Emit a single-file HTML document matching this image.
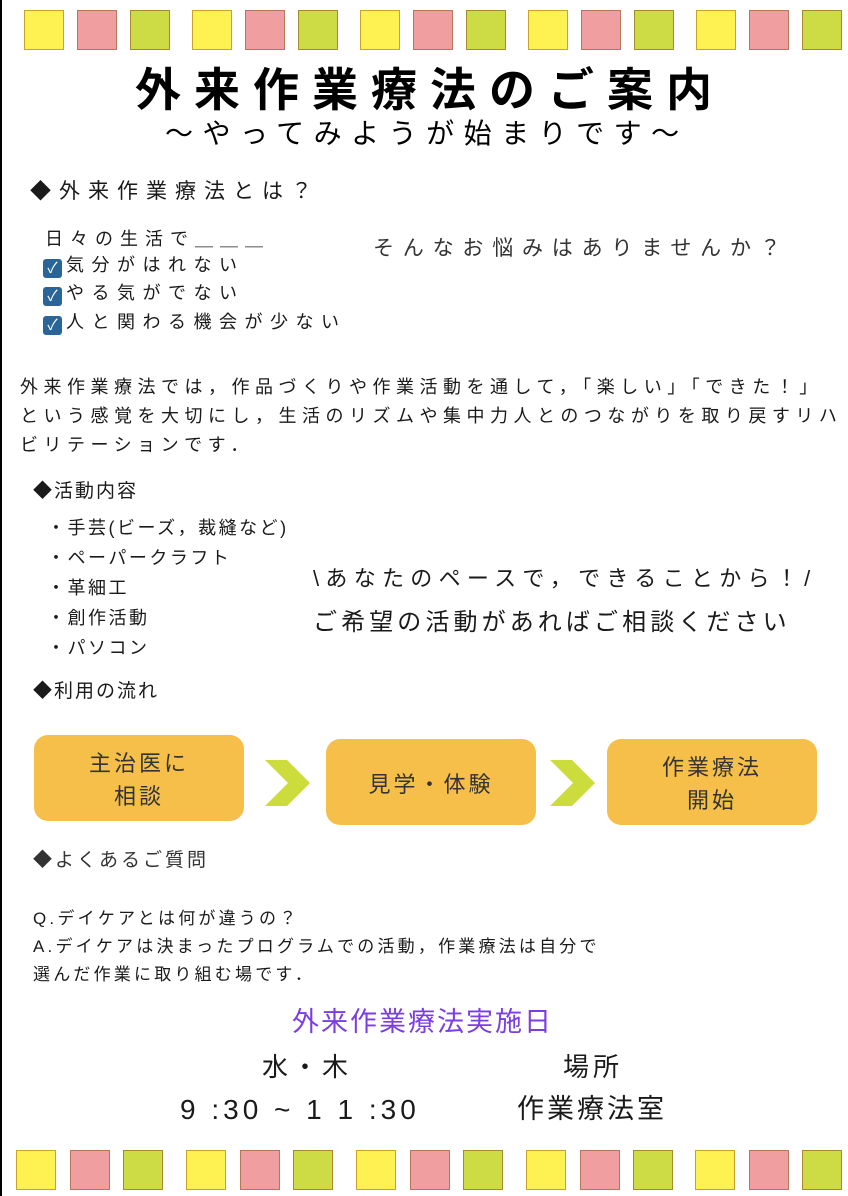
<!DOCTYPE html>
<html><head><meta charset="utf-8"><style>
*{margin:0;padding:0;box-sizing:border-box}
body{width:848px;height:1196px;background:#fff;position:relative;overflow:hidden;font-family:"Liberation Sans","Noto Sans CJK JP",sans-serif;color:#1a1a1a}
.t{position:absolute;white-space:nowrap;line-height:1}
.sq{position:absolute;width:40px;height:40px;border:1.5px solid #b88a2a}
.y{background:#fdf252;border-color:#c9a227}.p{background:#f09ea0;border-color:#b9765a}.g{background:#cddc44;border-color:#a88a2a}
.box{position:absolute;background:#f6bf49;border-radius:14px;color:#333;font-size:22px;letter-spacing:3px;text-align:center;display:flex;align-items:center;justify-content:center;line-height:1.5;padding-top:4px}
.cb{display:inline-block;width:19px;height:19px;background:#2a6599;border-radius:3px;color:#fff;font-size:15px;line-height:19px;text-align:center;vertical-align:-2px;margin-right:4px;letter-spacing:0}
</style></head><body>
<div style="position:absolute;left:0;top:0;width:1.5px;height:1196px;background:#000"></div>
<div class="sq y" style="left:24px;top:10px"></div><div class="sq p" style="left:77px;top:10px"></div><div class="sq g" style="left:130px;top:10px"></div>
<div class="sq y" style="left:192px;top:10px"></div><div class="sq p" style="left:245px;top:10px"></div><div class="sq g" style="left:298px;top:10px"></div>
<div class="sq y" style="left:360px;top:10px"></div><div class="sq p" style="left:413px;top:10px"></div><div class="sq g" style="left:466px;top:10px"></div>
<div class="sq y" style="left:528px;top:10px"></div><div class="sq p" style="left:581px;top:10px"></div><div class="sq g" style="left:634px;top:10px"></div>
<div class="sq y" style="left:696px;top:10px"></div><div class="sq p" style="left:749px;top:10px"></div><div class="sq g" style="left:802px;top:10px"></div>
<div class="sq y" style="left:16px;top:1150px"></div><div class="sq p" style="left:70px;top:1150px"></div><div class="sq g" style="left:123px;top:1150px"></div>
<div class="sq y" style="left:186px;top:1150px"></div><div class="sq p" style="left:240px;top:1150px"></div><div class="sq g" style="left:293px;top:1150px"></div>
<div class="sq y" style="left:356px;top:1150px"></div><div class="sq p" style="left:410px;top:1150px"></div><div class="sq g" style="left:463px;top:1150px"></div>
<div class="sq y" style="left:526px;top:1150px"></div><div class="sq p" style="left:580px;top:1150px"></div><div class="sq g" style="left:633px;top:1150px"></div>
<div class="sq y" style="left:695px;top:1150px"></div><div class="sq p" style="left:749px;top:1150px"></div><div class="sq g" style="left:802px;top:1150px"></div>

<div class="t" style="left:135px;top:67px;font-size:46px;letter-spacing:13px;font-weight:bold;color:#000">外来作業療法のご案内</div>
<div class="t" style="left:165px;top:120px;font-size:28px;letter-spacing:9.5px;color:#000">～やってみようが始まりです～</div>

<div class="t" style="left:30px;top:181px;font-size:21px;letter-spacing:8px"><span style="letter-spacing:0;margin-right:8px">◆</span>外来作業療法とは？</div>
<div class="t" style="left:45px;top:230px;font-size:18px;letter-spacing:7px">日々の生活で＿＿＿</div>
<div class="t" style="left:43px;top:256px;font-size:18px;letter-spacing:7.5px"><span class="cb">✓</span>気分がはれない</div>
<div class="t" style="left:43px;top:284px;font-size:18px;letter-spacing:7.5px"><span class="cb">✓</span>やる気がでない</div>
<div class="t" style="left:43px;top:313px;font-size:18px;letter-spacing:7.5px"><span class="cb">✓</span>人と関わる機会が少ない</div>
<div class="t" style="left:373px;top:238px;font-size:21px;letter-spacing:8.8px;color:#333">そんなお悩みはありませんか？</div>

<div class="t" style="left:20px;top:373px;font-size:18px;letter-spacing:5.5px;line-height:29px">外来作業療法では，作品づくりや作業活動を通して，「楽しい」「できた！」<br>という感覚を大切にし，生活のリズムや集中力人とのつながりを取り戻すリハ<br>ビリテーションです．</div>

<div class="t" style="left:33px;top:482px;font-size:19px;letter-spacing:2px">◆活動内容</div>
<div class="t" style="left:47px;top:513px;font-size:18px;letter-spacing:2.5px;line-height:30px">・手芸(ビーズ，裁縫など)<br>・ペーパークラフト<br>・革細工<br>・創作活動<br>・パソコン</div>
<div class="t" style="left:313px;top:568px;font-size:22px;letter-spacing:6.3px">\あなたのペースで，できることから！/</div>
<div class="t" style="left:313px;top:611px;font-size:24px;letter-spacing:4.1px">ご希望の活動があればご相談ください</div>

<div class="t" style="left:33px;top:682px;font-size:19px;letter-spacing:2px">◆利用の流れ</div>
<div class="box" style="left:34px;top:735px;width:210px;height:86px">主治医に<br>相談</div>
<div class="box" style="left:326px;top:739px;width:210px;height:86px">見学・体験</div>
<div class="box" style="left:607px;top:739px;width:210px;height:86px">作業療法<br>開始</div>
<svg style="position:absolute;left:265px;top:760px" width="48" height="46"><polygon points="0,0 22,0 45,23 22,46 0,46 23,23" fill="#cddc3d"/></svg>
<svg style="position:absolute;left:550px;top:760px" width="48" height="46"><polygon points="0,0 22,0 45,23 22,46 0,46 23,23" fill="#cddc3d"/></svg>

<div class="t" style="left:33px;top:851px;font-size:19px;letter-spacing:3px;color:#333">◆よくあるご質問</div>
<div class="t" style="left:33px;top:905px;font-size:17px;letter-spacing:3.2px;line-height:28px">Q.デイケアとは何が違うの？<br>A.デイケアは決まったプログラムでの活動，作業療法は自分で<br>選んだ作業に取り組む場です．</div>

<div class="t" style="left:292px;top:1009px;font-size:27px;letter-spacing:2px;color:#7b3ee6">外来作業療法実施日</div>
<div class="t" style="left:262px;top:1054px;font-size:26px;letter-spacing:4px">水・木</div>
<div class="t" style="left:563px;top:1054px;font-size:26px;letter-spacing:4px">場所</div>
<div class="t" style="left:180px;top:1096px;font-size:28px;letter-spacing:4px">9 :30 ~ 1 1 :30</div>
<div class="t" style="left:517px;top:1096px;font-size:27px;letter-spacing:3px">作業療法室</div>
</body></html>
